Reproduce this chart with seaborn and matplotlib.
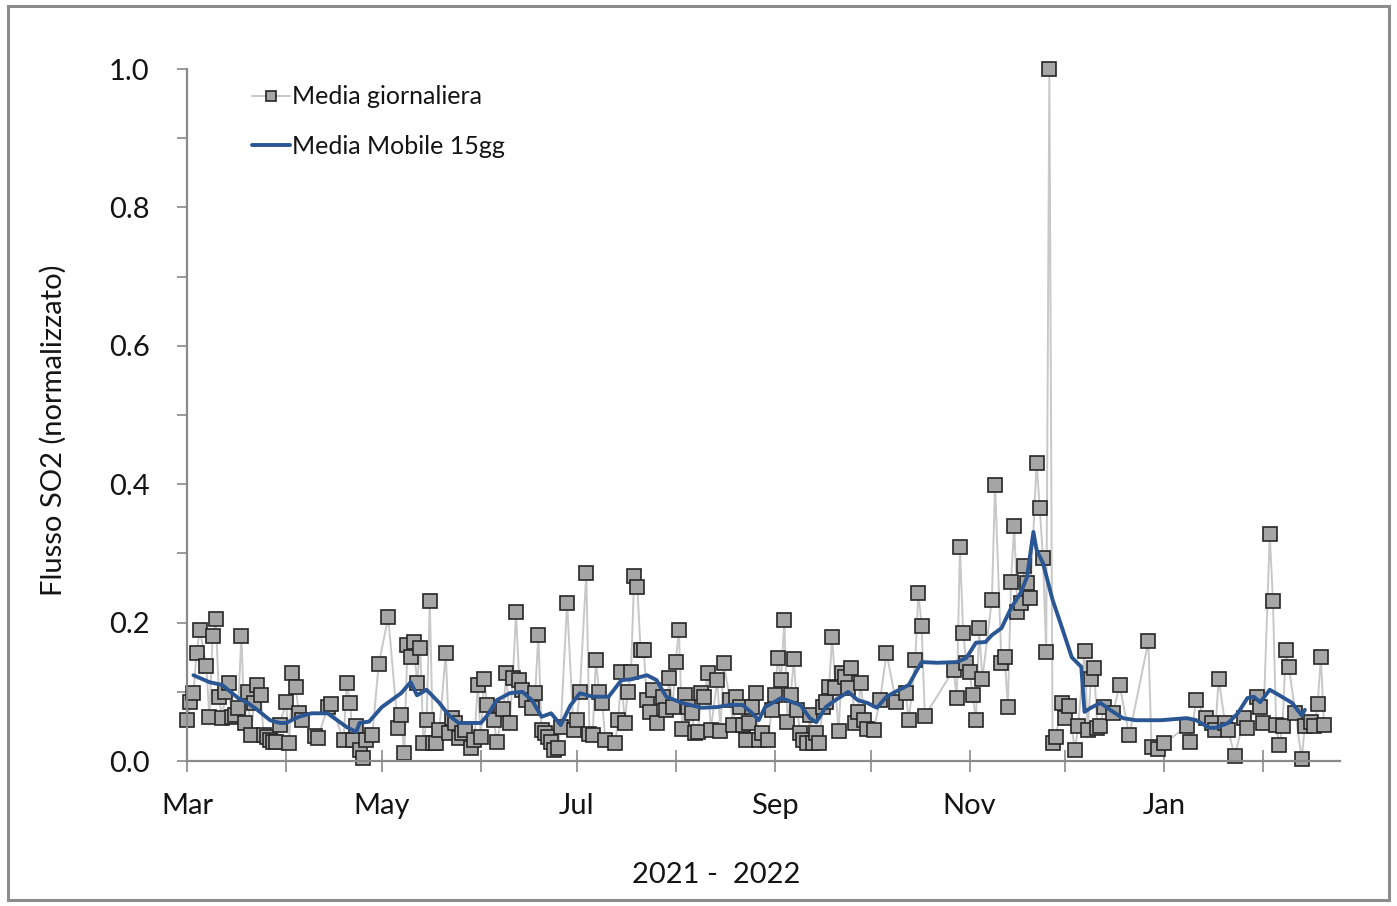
import numpy as np
import pandas as pd
import matplotlib
matplotlib.use("Agg")
import matplotlib.pyplot as plt
from matplotlib.patches import Rectangle
import seaborn as sns

# --- data -------------------------------------------------------------
start_date = "2021-03-01"

# daily mean SO2 flux (normalised): day offset from start_date, value
daily_day = [
    0, 1, 2, 3, 4, 6, 7, 8, 9, 10, 11, 12, 13, 14, 15, 16, 17, 18, 19, 20,
    21, 22, 23, 24, 25, 26, 27, 28, 29, 31, 32, 33, 34, 35, 36, 40, 41, 44, 45, 49,
    50, 51, 52, 53, 54, 55, 56, 58, 60, 63, 66, 67, 68, 69, 70, 71, 72, 73, 74, 75,
    76, 77, 78, 79, 81, 82, 83, 84, 85, 86, 87, 89, 90, 91, 92, 93, 94, 96, 97, 99,
    100, 101, 102, 103, 104, 105, 106, 108, 109, 110, 111, 112, 113, 114, 115, 116, 117, 119, 121, 122,
    123, 125, 126, 127, 128, 129, 130, 131, 134, 135, 136, 137, 138, 139, 140, 141, 142, 143, 144, 145,
    146, 147, 149, 150, 151, 152, 153, 154, 155, 156, 157, 158, 159, 160, 161, 162, 163, 164, 166, 167,
    168, 170, 171, 172, 173, 174, 175, 176, 177, 178, 179, 180, 182, 183, 184, 185, 186, 187, 188, 189,
    190, 191, 192, 193, 194, 195, 196, 197, 198, 199, 200, 201, 202, 203, 204, 205, 206, 207, 208, 209,
    210, 211, 212, 213, 215, 217, 219, 222, 225, 226, 228, 229, 230, 231, 240, 241, 242, 243, 244, 245,
    246, 247, 248, 249, 252, 253, 255, 256, 257, 258, 259, 260, 261, 262, 263, 264, 266, 267, 268, 269,
    270, 271, 272, 274, 275, 276, 278, 279, 281, 282, 283, 284, 285, 286, 287, 290, 292, 295, 301, 302,
    304, 306, 313, 314, 316, 319, 321, 322, 323, 325, 326, 328, 331, 332, 335, 336, 337, 339, 340, 341,
    342, 343, 344, 345, 347, 349, 350, 352, 353, 354, 355, 356,
]
daily_val = [
    0.060, 0.085, 0.098, 0.156, 0.190, 0.137, 0.064, 0.180, 0.205, 0.092, 0.062, 0.100, 0.113, 0.064, 0.066, 0.077, 0.180, 0.055, 0.100, 0.038,
    0.084, 0.110, 0.095, 0.038, 0.035, 0.030, 0.028, 0.027, 0.052, 0.085, 0.026, 0.127, 0.107, 0.070, 0.060, 0.036, 0.033, 0.078, 0.083, 0.030,
    0.113, 0.084, 0.030, 0.050, 0.016, 0.004, 0.030, 0.037, 0.140, 0.208, 0.048, 0.066, 0.011, 0.167, 0.150, 0.172, 0.113, 0.163, 0.026, 0.060,
    0.231, 0.026, 0.026, 0.045, 0.156, 0.040, 0.062, 0.055, 0.033, 0.040, 0.045, 0.019, 0.030, 0.110, 0.035, 0.118, 0.081, 0.060, 0.027, 0.075,
    0.127, 0.055, 0.120, 0.215, 0.117, 0.103, 0.088, 0.077, 0.098, 0.182, 0.045, 0.040, 0.035, 0.027, 0.016, 0.019, 0.049, 0.229, 0.045, 0.060,
    0.100, 0.272, 0.039, 0.038, 0.146, 0.100, 0.084, 0.030, 0.026, 0.059, 0.129, 0.055, 0.100, 0.129, 0.267, 0.251, 0.160, 0.160, 0.088, 0.071,
    0.103, 0.055, 0.093, 0.074, 0.120, 0.078, 0.143, 0.189, 0.047, 0.095, 0.078, 0.069, 0.040, 0.042, 0.098, 0.093, 0.127, 0.045, 0.117, 0.044,
    0.142, 0.088, 0.052, 0.093, 0.078, 0.052, 0.030, 0.055, 0.078, 0.098, 0.030, 0.040, 0.030, 0.074, 0.095, 0.149, 0.117, 0.204, 0.056, 0.095,
    0.147, 0.074, 0.040, 0.030, 0.026, 0.066, 0.026, 0.040, 0.026, 0.078, 0.085, 0.107, 0.179, 0.105, 0.044, 0.127, 0.122, 0.105, 0.135, 0.055,
    0.071, 0.113, 0.059, 0.047, 0.045, 0.088, 0.156, 0.085, 0.098, 0.059, 0.146, 0.243, 0.195, 0.065, 0.132, 0.091, 0.309, 0.185, 0.142, 0.129,
    0.095, 0.059, 0.192, 0.118, 0.233, 0.399, 0.142, 0.150, 0.078, 0.259, 0.340, 0.215, 0.228, 0.282, 0.257, 0.236, 0.430, 0.366, 0.293, 0.157,
    1.000, 0.026, 0.035, 0.084, 0.062, 0.079, 0.016, 0.050, 0.159, 0.045, 0.118, 0.135, 0.048, 0.050, 0.078, 0.070, 0.110, 0.037, 0.173, 0.020,
    0.018, 0.026, 0.050, 0.027, 0.088, 0.062, 0.055, 0.045, 0.119, 0.055, 0.045, 0.007, 0.062, 0.048, 0.093, 0.078, 0.055, 0.328, 0.231, 0.052,
    0.023, 0.050, 0.160, 0.136, 0.070, 0.003, 0.050, 0.056, 0.050, 0.082, 0.150, 0.052,
]

# 15-day moving average: day offset, value
mavg_day = [
    2, 7, 11, 16, 19, 22, 26, 29, 31, 35, 39, 44, 47, 50, 53, 54, 57, 61, 67, 70,
    72, 75, 79, 82, 85, 92, 94, 97, 101, 105, 108, 111, 114, 117, 120, 123, 127, 132, 136, 139,
    144, 147, 150, 155, 161, 166, 170, 174, 177, 179, 181, 186, 192, 195, 197, 200, 203, 207, 210, 213,
    216, 219, 223, 226, 228, 230, 235, 241, 244, 247, 250, 252, 255, 258, 261, 263, 265, 266, 268, 271,
    274, 277, 280, 281, 283, 286, 289, 293, 297, 305, 313, 316, 320, 322, 326, 329, 332, 334, 336, 339,
    342, 346, 349, 350,
]
mavg_val = [
    0.124, 0.114, 0.110, 0.091, 0.084, 0.074, 0.059, 0.055, 0.055, 0.064, 0.069, 0.069, 0.059, 0.049, 0.042, 0.055, 0.057, 0.078, 0.098, 0.114,
    0.095, 0.103, 0.084, 0.066, 0.055, 0.055, 0.066, 0.088, 0.098, 0.100, 0.088, 0.064, 0.069, 0.052, 0.080, 0.098, 0.093, 0.093, 0.117, 0.118,
    0.124, 0.117, 0.093, 0.084, 0.077, 0.078, 0.081, 0.081, 0.069, 0.059, 0.078, 0.091, 0.081, 0.062, 0.056, 0.078, 0.088, 0.100, 0.088, 0.084,
    0.077, 0.093, 0.103, 0.110, 0.127, 0.143, 0.142, 0.143, 0.149, 0.171, 0.172, 0.182, 0.192, 0.221, 0.243, 0.266, 0.331, 0.305, 0.286, 0.233,
    0.192, 0.150, 0.136, 0.071, 0.077, 0.084, 0.074, 0.062, 0.059, 0.059, 0.062, 0.059, 0.048, 0.048, 0.055, 0.069, 0.091, 0.093, 0.085, 0.103,
    0.095, 0.084, 0.066, 0.074,
]

month_labels = ["Mar", "", "May", "", "Jul", "", "Sep", "", "Nov", "", "Jan", ""]
y_label = "Flusso SO2 (normalizzato)"
x_label = "2021 -  2022"
legend_labels = ["Media giornaliera", "Media Mobile 15gg"]

# --- frames -------------------------------------------------------------
t0 = pd.Timestamp(start_date)
daily = pd.DataFrame({"date": t0 + pd.to_timedelta(daily_day, unit="D"), "val": daily_val})
mavg = pd.DataFrame({"date": t0 + pd.to_timedelta(mavg_day, unit="D"), "val": mavg_val})

# --- style --------------------------------------------------------------
sns.set_theme(style="white")
plt.rcParams["font.family"] = ["Lato", "DejaVu Sans"]

fig = plt.figure(figsize=(13.97, 9.06), dpi=100)
ax = fig.add_axes([0.1339, 0.16, 0.8253, 0.7638])

axis_grey = "#8a8a8a"
text_col = "#141414"
sns.lineplot(data=daily, x="date", y="val", ax=ax, color="#c8c8c8", linewidth=1.4,
             marker="s", markersize=9.8, markerfacecolor="#a6a6a6",
             markeredgecolor="#262626", markeredgewidth=1.2,
             label=legend_labels[0], clip_on=False, zorder=2)
sns.lineplot(data=mavg, x="date", y="val", ax=ax, color="#2a5694", linewidth=2.8,
             label=legend_labels[1], zorder=3)

# y ticks: every 0.1, labels every 0.2
yt = np.round(np.arange(0, 1.01, 0.1), 1)
ax.set_yticks(yt)
ax.set_yticklabels([f"{v:.1f}" if round(v * 10) % 2 == 0 else "" for v in yt])
ax.tick_params(axis="y", direction="out", length=7, width=1.2, color=axis_grey,
               labelsize=21, labelcolor=text_col, pad=20, left=True)

# x ticks: every month start, labels every other month
month_ticks = pd.date_range(t0, periods=len(month_labels), freq="MS")
ax.set_xticks(month_ticks)
ax.set_xticklabels(month_labels)
ax.tick_params(axis="x", direction="inout", length=16, width=1.2, color=axis_grey,
               labelsize=21, labelcolor=text_col, pad=15, bottom=True)

ax.set_ylim(0, 1.0)
ax.set_xlim(t0, t0 + pd.Timedelta(days=361))

for side in ["top", "right"]:
    ax.spines[side].set_visible(False)
for side in ["left", "bottom"]:
    ax.spines[side].set_color(axis_grey)
    ax.spines[side].set_linewidth(1.6)

ax.set_ylabel(y_label, fontsize=21, color=text_col)
ax.set_xlabel(x_label, fontsize=21, color=text_col)
ax.yaxis.set_label_coords(-0.104, 0.478)
ax.xaxis.set_label_coords(0.459, -0.146)

leg = ax.legend(loc="upper left", bbox_to_anchor=(0.037, 1.009), frameon=False,
                fontsize=18, handlelength=1.5, handletextpad=0.1, labelspacing=1.05,
                markerscale=0.7)
for t in leg.get_texts():
    t.set_color(text_col)

# outer frame around the whole figure
fig.patches.append(Rectangle((0.006, 0.007), 0.988, 0.986, transform=fig.transFigure,
                             fill=False, edgecolor="#8c8c8c", linewidth=2.2))

fig.savefig("out.png", dpi=100, facecolor="white")
